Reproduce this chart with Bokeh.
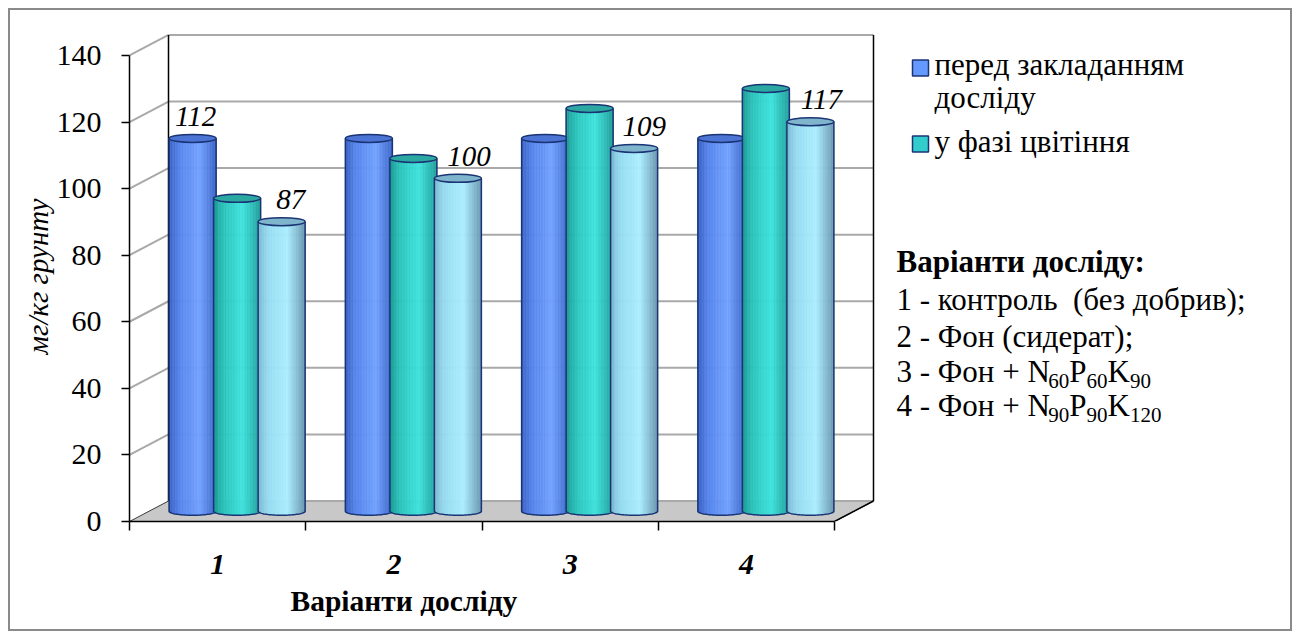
import numpy as np
from bokeh.plotting import figure
from bokeh.models import Range1d, FixedTicker, Title, InlineStyleSheet, ColumnDataSource
from bokeh.core.properties import value
from bokeh.embed import file_html
from bokeh.resources import INLINE

# ---- data ----
categories = ["1", "2", "3", "4"]
before_planting = [112, 112, 112, 112]   # перед закладанням досліду
flowering = [94, 106, 121, 127]          # у фазі цвітіння
third_term = [87, 100, 109, 117]
series = [before_planting, flowering, third_term]
legend_lines = [["перед закладанням", "досліду"], ["у фазі цвітіння"]]
y_ticks = [0, 20, 40, 60, 80, 100, 120, 140]
y_title = "мг/кг грунту"
x_title = "Варіанти досліду"
variants_title = "Варіанти досліду:"
variants_plain = ["1 - контроль \u00a0(без добрив);", "2 - Фон (сидерат);"]
# rows with subscripts: (prefix, [(element, dose), ...])
variants_sub = [("3 - Фон + ", [("N", "60"), ("P", "60"), ("K", "90")]),
                ("4 - Фон + ", [("N", "90"), ("P", "90"), ("K", "120")])]
labelled_bars = [(0, 0), (0, 2), (1, 2), (2, 2), (3, 2)]   # (group, series)

# ---- geometry ----
W, H = 1300, 639
FRAME_L, FRAME_R, FRAME_T, FRAME_B = 129, 1291, 31, 521
PX_PER_CAT = 176.25
PX_PER_UNIT = 3.329
X_END = (FRAME_R - FRAME_L) / PX_PER_CAT
Y_END = (FRAME_B - FRAME_T) / PX_PER_UNIT


def dx(px):
    return px / PX_PER_CAT


def dy(py):
    return py / PX_PER_UNIT


def sx(px):
    return (px - FRAME_L) / PX_PER_CAT


def sy(py):
    return (FRAME_B - py) / PX_PER_UNIT


def text_y(baseline_px, font_px):
    # text glyphs are placed about a third of an em below the anchor
    return sy(baseline_px - 0.34 * font_px)


# advance widths (em) of the serif face, for chaining subscript pieces
ADV = {" ": 0.25, "-": 0.333, "+": 0.564, "Ф": 0.741, "о": 0.5, "н": 0.539,
       "N": 0.722, "P": 0.556, "K": 0.722}
ADV.update({d: 0.5 for d in "0123456789"})


def text_width(s, font_px):
    return sum(ADV.get(ch, 0.5) for ch in s) * font_px


DEPTH_X, DEPTH_Y = dx(39), dy(20.5)
BAR_R, PITCH, ELL_H = dx(23.5), dx(44.5), dy(8)
BASE = DEPTH_Y / 2
SERIF = "'Liberation Serif', 'Times New Roman', serif"
FONT = value(SERIF)
OUTLINE = "#1b3474"
GRID = "#a9a9a9"
LEG_FS, VAR_FS, SUB_FS, LAB_FS = 31, 31, 21, 29

p = figure(width=W, height=H, x_range=Range1d(0, X_END), y_range=Range1d(0, Y_END),
           min_border_left=FRAME_L, min_border_right=W - FRAME_R,
           min_border_top=FRAME_T, min_border_bottom=H - FRAME_B,
           output_backend="svg", toolbar_location=None,
           background_fill_color=None, border_fill_color=None,
           outline_line_color=None)
p.grid.visible = False
# thin grey frame around the whole chart area
p.stylesheets = [InlineStyleSheet(css=":host { outline: 2px solid #8a8a8a; outline-offset: -10px; }")]

# ---- axes ----
ya = p.yaxis[0]
ya.ticker = FixedTicker(ticks=y_ticks)
ya.bounds = (0, 140)
ya.axis_line_color = "black"
ya.axis_line_width = 1.5
ya.major_tick_out = 8
ya.major_tick_in = 0
ya.major_tick_line_color = "black"
ya.major_tick_line_width = 1.5
ya.minor_tick_line_color = None
ya.major_label_text_font = SERIF
ya.major_label_text_font_size = "30px"
ya.major_label_text_color = "black"
ya.major_label_standoff = 20
ya.axis_label = y_title
ya.axis_label_text_font = SERIF
ya.axis_label_text_font_style = "italic"
ya.axis_label_text_font_size = "29px"
ya.axis_label_text_color = "black"
ya.axis_label_standoff = 0

xa = p.xaxis[0]
centers = [i + 0.5 for i in range(len(categories))]
xa.ticker = FixedTicker(ticks=centers, minor_ticks=list(range(len(categories) + 1)))
xa.major_label_overrides = {c: lab for c, lab in zip(centers, categories)}
xa.bounds = (0, len(categories))
xa.axis_line_color = "black"
xa.axis_line_width = 1.5
xa.major_tick_out = 0
xa.major_tick_in = 0
xa.minor_tick_out = 9
xa.minor_tick_in = 0
xa.minor_tick_line_color = "black"
xa.minor_tick_line_width = 1.5
xa.major_label_text_font = SERIF
xa.major_label_text_font_style = "bold italic"
xa.major_label_text_font_size = "30px"
xa.major_label_text_color = "black"
xa.major_label_standoff = 24

p.add_layout(Title(text=x_title, align="left", offset=290 - FRAME_L,
                   text_font=SERIF, text_font_style="bold", text_font_size="29.5px",
                   text_color="black", standoff=13), "below")

# ---- 3D box: floor, back wall, side wall ----
n_cat = len(categories)
p.patch(x=[0, n_cat, n_cat + DEPTH_X, DEPTH_X], y=[0, 0, DEPTH_Y, DEPTH_Y],
        fill_color="#c8c8c8", line_color="#3a3a3a", line_width=1)
p.segment(x0=[DEPTH_X] * len(y_ticks), y0=[v + DEPTH_Y for v in y_ticks],
          x1=[n_cat + DEPTH_X] * len(y_ticks), y1=[v + DEPTH_Y for v in y_ticks],
          line_color=GRID, line_width=2)
p.segment(x0=[0] * (len(y_ticks) - 1), y0=y_ticks[1:],
          x1=[DEPTH_X] * (len(y_ticks) - 1), y1=[v + DEPTH_Y for v in y_ticks[1:]],
          line_color=GRID, line_width=2)
p.segment(x0=[DEPTH_X, n_cat + DEPTH_X], y0=[DEPTH_Y, DEPTH_Y],
          x1=[DEPTH_X, n_cat + DEPTH_X], y1=[y_ticks[-1] + DEPTH_Y] * 2,
          line_color="black", line_width=1.5)
p.segment(x0=[n_cat], y0=[0], x1=[n_cat + DEPTH_X], y1=[DEPTH_Y],
          line_color="black", line_width=1.5)

# ---- cylinders ----
shades = [
    dict(stops=[(-1.0, "#3a62c4"), (-0.55, "#5585ec"), (0.3, "#72a2ff"), (1.0, "#3d67ca")], top="#4b74d4"),
    dict(stops=[(-1.0, "#1e9a94"), (-0.55, "#2cc4bd"), (0.25, "#3fe3dd"), (1.0, "#219f9b")], top="#2ba8a2"),
    dict(stops=[(-1.0, "#7dbbd3"), (-0.55, "#98dcf2"), (0.25, "#abeeff"), (1.0, "#6a98b0")], top="#7eb4cc"),
]


def hex_rgb(h):
    return np.array([int(h[i:i + 2], 16) for i in (1, 3, 5)], dtype=float)


def shade_at(stops, u):
    pos = [s[0] for s in stops]
    cols = [hex_rgb(s[1]) for s in stops]
    rgb = [np.interp(u, pos, [c[k] for c in cols]) for k in range(3)]
    return "#%02x%02x%02x" % tuple(int(round(c)) for c in rgb)


def bar_cx(g, s):
    return g + 0.5 + DEPTH_X / 2 + (s - 1) * PITCH


N_STRIPS = 30
edges = np.linspace(-1, 1, N_STRIPS + 1)
mids = (edges[:-1] + edges[1:]) / 2
arc_t = np.linspace(np.pi, 0, 40)

for s, vals in enumerate(series):
    L, R, B, T, C = [], [], [], [], []
    xs, ys = [], []
    cxs, tops = [], []
    for g, v in enumerate(vals):
        cx = bar_cx(g, s)
        top = BASE + v          # bars stand on the floor at mid depth
        cxs.append(cx)
        tops.append(top)
        for k in range(N_STRIPS):
            L.append(cx + BAR_R * edges[k])
            R.append(cx + BAR_R * edges[k + 1])
            B.append(BASE - ELL_H / 2 * np.sqrt(max(0.0, 1 - mids[k] ** 2)))
            T.append(top)
            C.append(shade_at(shades[s]["stops"], mids[k]))
        ox = [cx - BAR_R, cx - BAR_R] + list(cx + BAR_R * np.cos(arc_t)) + [cx + BAR_R]
        oy = [top, BASE] + list(BASE - ELL_H / 2 * np.sin(arc_t)) + [top]
        xs.append(ox)
        ys.append(oy)
    p.quad(left=L, right=R, bottom=B, top=T, fill_color=C, line_color=C, line_width=0.6)
    p.multi_line(xs=xs, ys=ys, line_color=OUTLINE, line_width=1.5)
    p.ellipse(x=cxs, y=tops, width=2 * BAR_R, height=ELL_H,
              fill_color=shades[s]["top"], line_color=OUTLINE, line_width=1.5)

# ---- value labels ----
label_nudge = [3, 9, 11, 10, 11]   # horizontal pixel nudge of each label
label_src = ColumnDataSource(dict(
    x=[bar_cx(g, s) for g, s in labelled_bars],
    y=[BASE + series[s][g] for g, s in labelled_bars],
    text=[str(series[s][g]) for g, s in labelled_bars],
    nudge=label_nudge,
))
p.text(x="x", y="y", text="text", x_offset="nudge", y_offset=-12 - 0.34 * LAB_FS,
       source=label_src, text_font=FONT, text_font_style="italic",
       text_font_size=f"{LAB_FS}px", text_align="center", text_baseline="alphabetic",
       text_color="black")

# ---- legend ----
p.scatter(x=[sx(920), sx(920)], y=[sy(67.5), sy(143.5)], marker="square", size=16,
          fill_color=["#6699ff", "#33cccc"], line_color=OUTLINE, line_width=1.5)
leg_text = legend_lines[0] + legend_lines[1]
p.text(x=[sx(934)] * 3, y=[text_y(b, LEG_FS) for b in (75, 108, 152)], text=leg_text,
       text_font=FONT, text_font_size=f"{LEG_FS}px", text_align="left",
       text_baseline="alphabetic", text_color="black")

# ---- variants block ----
VAR_X = 896
p.text(x=[sx(VAR_X)], y=[text_y(272, VAR_FS)], text=[variants_title], text_font=FONT,
       text_font_style="bold", text_font_size=f"{VAR_FS}px", text_baseline="alphabetic",
       text_color="black")
p.text(x=[sx(VAR_X)] * 2, y=[text_y(b, VAR_FS) for b in (310, 347)], text=variants_plain,
       text_font=FONT, text_font_size=f"{VAR_FS}px", text_baseline="alphabetic",
       text_color="black")
for (prefix, parts), base_px in zip(variants_sub, [382, 416]):
    big_x, big_t, small_x, small_t = [], [], [], []
    cursor = VAR_X
    for i, (el, dose) in enumerate(parts):
        piece = prefix + el if i == 0 else el
        big_x.append(sx(cursor))
        big_t.append(piece)
        cursor += text_width(piece, VAR_FS)
        small_x.append(sx(cursor))
        small_t.append(dose)
        cursor += text_width(dose, SUB_FS)
    p.text(x=big_x, y=[text_y(base_px, VAR_FS)] * len(big_x), text=big_t, text_font=FONT,
           text_font_size=f"{VAR_FS}px", text_baseline="alphabetic", text_color="black")
    p.text(x=small_x, y=[text_y(base_px + 6, SUB_FS)] * len(small_x), text=small_t,
           text_font=FONT, text_font_size=f"{SUB_FS}px", text_baseline="alphabetic",
           text_color="black")

open("out.html", "w").write(file_html(p, INLINE))
